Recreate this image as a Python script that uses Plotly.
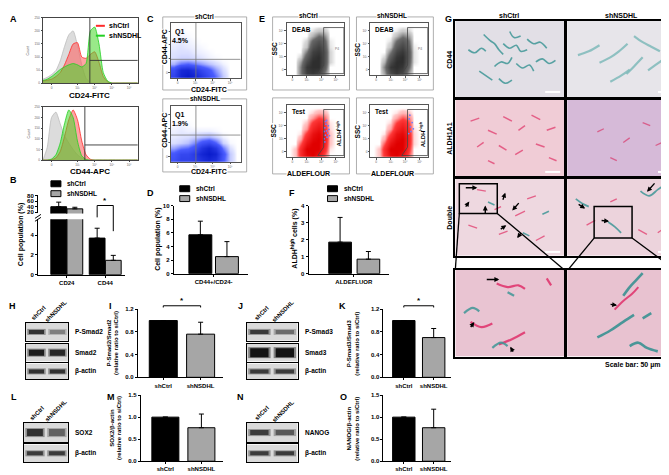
import plotly.graph_objects as go

W, H = 669, 475
FONT = "Liberation Sans"

# ---------------- values ----------------
# A: flow histograms (x = log10 fluorescence, y = count)
hist_x = [-0.5, -0.25, 0.0, 0.25, 0.5, 0.75, 1.0, 1.25, 1.5, 1.75, 2.0, 2.25,
          2.5, 2.75, 3.0, 3.25, 3.5, 3.75, 4.0, 4.25, 4.5, 4.75, 5.0]
cd24_isotype = [15, 22, 33, 48, 85, 140, 185, 200, 145, 70, 18, 3, 0, 0, 0, 0, 0, 0, 0, 0, 0, 0, 0]
cd24_shctrl = [8, 11, 15, 25, 40, 70, 110, 150, 155, 100, 95, 110, 120, 80, 25, 5, 0, 0, 0, 0, 0, 0, 0]
cd24_shnsdhl = [10, 15, 25, 38, 52, 62, 70, 75, 70, 62, 75, 200, 215, 150, 40, 8, 0, 0, 0, 0, 0, 0, 0]
cd44_isotype = [0, 60, 200, 225, 170, 115, 80, 50, 25, 10, 2, 0, 0, 0, 0, 0, 0, 0, 0, 0, 0, 0, 0]
cd44_shctrl = [0, 0, 2, 10, 40, 110, 190, 235, 190, 90, 25, 4, 0, 0, 0, 0, 0, 0, 0, 0, 0, 0, 0]
cd44_shnsdhl = [0, 0, 5, 25, 80, 170, 235, 200, 90, 20, 3, 0, 0, 0, 0, 0, 0, 0, 0, 0, 0, 0, 0]

# B: cell population (%)
b_markers = ["CD24", "CD44"]
b_shctrl = [40, 3.7]
b_shctrl_sd = [17, 1.0]
b_shnsdhl = [32, 1.45]
b_shnsdhl_sd = [6, 0.5]

# C: CD44/CD24 dot plots, density grid (rows bottom -> top)
c_q1 = ["4.5%", "1.9%"]
c_shctrl_density = [
    [0.6, 0.9, 1.0, 0.9, 0.7, 0.5, 0.3, 0.1, 0, 0],
    [0.5, 0.85, 0.9, 0.75, 0.55, 0.4, 0.2, 0.06, 0, 0],
    [0.15, 0.3, 0.35, 0.28, 0.2, 0.12, 0.06, 0.02, 0, 0],
    [0.05, 0.08, 0.08, 0.06, 0.04, 0.02, 0.01, 0, 0, 0],
    [0.04, 0.05, 0.05, 0.03, 0.02, 0.01, 0, 0, 0, 0],
    [0.03, 0.04, 0.03, 0.02, 0.01, 0, 0, 0, 0, 0],
    [0.02, 0.03, 0.02, 0.01, 0, 0, 0, 0, 0, 0],
    [0.01, 0.02, 0.01, 0, 0, 0, 0, 0, 0, 0],
    [0, 0.01, 0, 0, 0, 0, 0, 0, 0, 0],
    [0, 0, 0, 0, 0, 0, 0, 0, 0, 0],
]
c_shnsdhl_density = [
    [0.45, 0.6, 0.6, 0.65, 0.8, 0.9, 0.8, 0.4, 0.1, 0],
    [0.4, 0.55, 0.55, 0.7, 0.9, 1.0, 0.9, 0.45, 0.1, 0],
    [0.18, 0.28, 0.32, 0.45, 0.75, 0.9, 0.7, 0.28, 0.05, 0],
    [0.05, 0.08, 0.12, 0.25, 0.45, 0.55, 0.35, 0.08, 0.01, 0],
    [0.03, 0.04, 0.05, 0.08, 0.12, 0.15, 0.08, 0.02, 0, 0],
    [0.02, 0.03, 0.02, 0.02, 0.02, 0.02, 0.01, 0, 0, 0],
    [0.01, 0.02, 0.01, 0, 0, 0, 0, 0, 0, 0],
    [0, 0, 0, 0, 0, 0, 0, 0, 0, 0],
    [0, 0, 0, 0, 0, 0, 0, 0, 0, 0],
    [0, 0, 0, 0, 0, 0, 0, 0, 0, 0],
]

# D: CD44+/CD24- population (%)
d_shctrl, d_shctrl_sd = 5.7, 2.0
d_shnsdhl, d_shnsdhl_sd = 2.5, 2.2

# E: ALDEFLUOR dot plots, density grids (rows bottom -> top)
e_deab_shctrl = [
    [0, 0, 0.3, 0.8, 0.9, 0.8, 0.3, 0, 0, 0],
    [0, 0, 0.3, 0.9, 1.0, 1.0, 0.5, 0, 0, 0],
    [0, 0, 0.2, 0.7, 1.0, 1.0, 0.6, 0.05, 0, 0],
    [0, 0, 0.05, 0.5, 0.9, 1.0, 0.6, 0.05, 0, 0],
    [0, 0, 0, 0.3, 0.8, 0.9, 0.6, 0.05, 0, 0],
    [0, 0, 0, 0.1, 0.6, 0.8, 0.5, 0.03, 0, 0],
    [0, 0, 0, 0.05, 0.4, 0.6, 0.4, 0.02, 0, 0],
    [0, 0, 0, 0, 0.15, 0.35, 0.25, 0, 0, 0],
    [0, 0, 0, 0, 0.03, 0.1, 0.08, 0, 0, 0],
    [0, 0, 0, 0, 0, 0, 0, 0, 0, 0],
]
e_test_shctrl = [
    [0, 0.05, 0.5, 0.9, 1.0, 0.8, 0.3, 0, 0, 0],
    [0, 0.05, 0.5, 1.0, 1.0, 1.0, 0.5, 0.02, 0, 0],
    [0, 0, 0.3, 0.8, 1.0, 1.0, 0.6, 0.05, 0, 0],
    [0, 0, 0.1, 0.6, 0.9, 1.0, 0.7, 0.05, 0, 0],
    [0, 0, 0.02, 0.4, 0.8, 0.95, 0.6, 0.05, 0, 0],
    [0, 0, 0, 0.15, 0.6, 0.8, 0.5, 0.03, 0, 0],
    [0, 0, 0, 0.05, 0.4, 0.6, 0.4, 0.02, 0, 0],
    [0, 0, 0, 0, 0.15, 0.35, 0.25, 0, 0, 0],
    [0, 0, 0, 0, 0.03, 0.1, 0.08, 0, 0, 0],
    [0, 0, 0, 0, 0, 0, 0, 0, 0, 0],
]
e_deab_shnsdhl = [
    [0, 0, 0.2, 0.7, 0.9, 0.7, 0.2, 0, 0, 0],
    [0, 0, 0.3, 0.9, 1.0, 0.9, 0.4, 0, 0, 0],
    [0, 0, 0.15, 0.7, 1.0, 1.0, 0.5, 0.03, 0, 0],
    [0, 0, 0.05, 0.5, 0.9, 1.0, 0.55, 0.03, 0, 0],
    [0, 0, 0, 0.3, 0.75, 0.9, 0.55, 0.03, 0, 0],
    [0, 0, 0, 0.1, 0.55, 0.75, 0.45, 0.02, 0, 0],
    [0, 0, 0, 0.03, 0.35, 0.55, 0.35, 0, 0, 0],
    [0, 0, 0, 0, 0.12, 0.3, 0.2, 0, 0, 0],
    [0, 0, 0, 0, 0.02, 0.08, 0.05, 0, 0, 0],
    [0, 0, 0, 0, 0, 0, 0, 0, 0, 0],
]
e_test_shnsdhl = [
    [0, 0.05, 0.45, 0.9, 1.0, 0.8, 0.3, 0, 0, 0],
    [0, 0.05, 0.5, 1.0, 1.0, 1.0, 0.45, 0, 0, 0],
    [0, 0, 0.3, 0.8, 1.0, 1.0, 0.55, 0.03, 0, 0],
    [0, 0, 0.1, 0.6, 0.9, 1.0, 0.6, 0.03, 0, 0],
    [0, 0, 0.02, 0.35, 0.8, 0.9, 0.55, 0.03, 0, 0],
    [0, 0, 0, 0.12, 0.55, 0.75, 0.45, 0.02, 0, 0],
    [0, 0, 0, 0.03, 0.35, 0.55, 0.35, 0, 0, 0],
    [0, 0, 0, 0, 0.12, 0.3, 0.2, 0, 0, 0],
    [0, 0, 0, 0, 0.02, 0.08, 0.05, 0, 0, 0],
    [0, 0, 0, 0, 0, 0, 0, 0, 0, 0],
]
e_high_shctrl_x = [6.5, 6.7, 6.9, 6.6, 7.1, 6.8, 7.3, 6.6, 7.0, 6.9, 7.4, 6.7, 7.2, 6.5]
e_high_shctrl_y = [3.5, 4.2, 5.0, 5.6, 4.6, 6.3, 5.3, 2.9, 3.8, 7.0, 4.1, 6.8, 6.0, 4.9]
e_high_shnsdhl_x = [6.6, 6.9, 7.2, 6.7, 7.0, 6.8, 7.4]
e_high_shnsdhl_y = [4.5, 5.8, 6.6, 7.3, 4.9, 8.0, 5.4]

# F: ALDH-high cells (%)
f_shctrl, f_shctrl_sd = 1.85, 1.45
f_shnsdhl, f_shnsdhl_sd = 0.85, 0.45

# I, K, M, O: densitometry ratios relative to shCtrl
ratio_groups = ["shCtrl", "shNSDHL"]
i_ratio, i_sd = [1.0, 0.76], [0, 0.21]
k_ratio, k_sd = [1.0, 0.70], [0, 0.16]
m_ratio, m_sd = [1.0, 0.76], [0, 0.31]
o_ratio, o_sd = [1.0, 0.76], [0, 0.42]

# H, J, L, N: western blot band intensity (0 = none, 1 = black)
blot_lanes = ["shCtrl", "shNSDHL"]
h_proteins = ["P-Smad2", "Smad2", "β-actin"]
h_bands = [[0.85, 0.45], [0.95, 0.9], [0.85, 0.85]]
j_proteins = ["P-Smad3", "Smad3", "β-actin"]
j_bands = [[0.8, 0.55], [1.0, 1.0], [0.8, 0.8]]
l_proteins = ["SOX2", "β-actin"]
l_bands = [[0.85, 0.6], [0.8, 0.8]]
n_proteins = ["NANOG", "β-actin"]
n_bands = [[0.8, 0.65], [0.8, 0.8]]

cd44_ctrl_strokes = [
    ([12, 18, 24, 28], [62, 58, 64, 60]), ([26, 32, 36, 40, 44], [82, 74, 70, 62, 56]),
    ([36, 42, 48, 52], [40, 46, 44, 52]), ([44, 50, 56, 60, 66], [70, 64, 68, 60, 62]),
    ([50, 54, 60], [86, 78, 80]), ([56, 62, 68, 72], [44, 38, 42, 34]),
    ([66, 72, 78, 84], [76, 70, 72, 64]), ([22, 28, 34], [34, 28, 22]),
    ([74, 80, 86, 92], [46, 50, 44, 48]), ([40, 46, 52], [24, 18, 22]),
]
cd44_nsdhl_strokes = [
    ([10, 20, 30], [55, 60, 68]), ([30, 40, 48, 56], [45, 52, 60, 70]),
    ([55, 62, 70], [30, 40, 52]), ([62, 70, 78, 86], [80, 72, 66, 60]),
    ([40, 50, 58], [20, 28, 36]), ([75, 82, 90], [35, 42, 50]),
]
aldh_ctrl_strokes = [
    ([14, 22], [72, 76]), ([30, 38], [60, 55]), ([44, 52], [78, 72]), ([58, 64], [60, 66]),
    ([70, 78], [80, 74]), ([20, 26], [38, 44]), ([40, 47], [40, 34]), ([55, 62], [28, 34]),
    ([74, 82], [42, 38]), ([84, 92], [60, 64]), ([30, 36], [20, 16]), ([86, 93], [24, 20]),
]
aldh_nsdhl_strokes = [([28, 34], [58, 62]), ([52, 58], [44, 50]), ([70, 77], [70, 66]),
                      ([40, 46], [24, 20]), ([82, 88], [40, 44])]
double_ctrl_pink = [([20, 28], [86, 84]), ([36, 42], [60, 64]), ([55, 64], [52, 58]), ([66, 74], [74, 78]),
                    ([40, 48], [28, 32]), ([74, 82], [20, 26]), ([12, 20], [40, 36])]
double_ctrl_teal = [([30, 36], [70, 66]), ([62, 68], [30, 26]), ([80, 86], [54, 58])]
double_nsdhl_pink = [([18, 26], [40, 46]), ([66, 74], [34, 28]), ([40, 46], [70, 74]), ([84, 90], [30, 36])]
double_nsdhl_teal = [([68, 76, 84, 90], [84, 78, 86, 92]), ([8, 14, 20], [74, 68, 64]),
                     ([38, 44, 50], [44, 38, 30])]
inset_ctrl_pink = [([38, 48, 58, 64], [84, 80, 82, 78]), ([14, 24, 34], [40, 34, 38]),
                   ([40, 52, 64], [14, 20, 28]), ([84, 88], [90, 82])]
inset_ctrl_teal = [([34, 42, 48], [10, 16, 12]), ([8, 16, 22], [50, 56, 52]), ([48, 54], [74, 70])]
inset_nsdhl_pink = [([44, 52, 60, 66], [54, 64, 72, 80])]
inset_nsdhl_teal = [([52, 58, 64, 70], [70, 80, 88, 96]), ([28, 40, 52, 62], [22, 30, 40, 48]),
                    ([58, 66, 74, 84], [12, 16, 10, 6]), ([70, 78], [44, 50])]

# ---------------- helpers ----------------
fig = go.Figure()
annotations, shapes = [], []
n_axes = 0
TICKFONT = dict(family=FONT, size=6, color="black", weight="bold")
TINY = dict(family=FONT, size=3.2, color="#666")
BAR_COLORS = ["black", "#a6a6a6"]


def pp(x, y):
    return x / W, 1 - y / H


def add_text(x, y, s, size=7, bold=True, angle=0, anchor="center", color="black", bg=None):
    px, py = pp(x, y)
    a = dict(x=px, y=py, xref="paper", yref="paper", showarrow=False, textangle=angle,
             xanchor=anchor, yanchor="middle", text="<b>%s</b>" % s if bold else s,
             font=dict(family=FONT, size=size, color=color))
    if bg:
        a.update(bgcolor=bg, borderpad=0)
    annotations.append(a)


def add_line(x0, y0, x1, y1, color="black", width=1):
    a, b = pp(x0, y0)
    c, d = pp(x1, y1)
    shapes.append(dict(type="line", xref="paper", yref="paper", x0=a, y0=b, x1=c, y1=d,
                       line=dict(color=color, width=width)))


def add_rect(x0, y0, x1, y1, color="black", width=1, fill=None):
    a, b = pp(x0, y1)
    c, d = pp(x1, y0)
    shapes.append(dict(type="rect", xref="paper", yref="paper", x0=a, y0=b, x1=c, y1=d,
                       line=dict(color=color, width=width), fillcolor=fill or "rgba(0,0,0,0)"))


def add_arrow(hx, hy, tx, ty):
    px, py = pp(hx, hy)
    annotations.append(dict(x=px, y=py, xref="paper", yref="paper", text=" ", showarrow=True,
                            ax=tx - hx, ay=ty - hy, arrowhead=2, arrowsize=0.7, arrowwidth=1.4,
                            arrowcolor="black", font=dict(size=1)))


def add_axes(box, xr, yr, xa=None, ya=None):
    global n_axes
    n_axes += 1
    s = "" if n_axes == 1 else str(n_axes)
    x0, x1, y0, y1 = box
    base = dict(showgrid=False, zeroline=False, showticklabels=False, ticks="",
                showline=False, fixedrange=True)
    xd = dict(base, domain=[x0 / W, x1 / W], range=xr, anchor="y" + s)
    yd = dict(base, domain=[1 - y1 / H, 1 - y0 / H], range=yr, anchor="x" + s)
    xd.update(xa or {})
    yd.update(ya or {})
    fig.update_layout({"xaxis" + s: xd, "yaxis" + s: yd})
    return "x" + s, "y" + s


def val_px(box, xr, yr, xv, yv):
    x0, x1, y0, y1 = box
    return (x0 + (xv - xr[0]) / (xr[1] - xr[0]) * (x1 - x0),
            y1 - (yv - yr[0]) / (yr[1] - yr[0]) * (y1 - y0))


def bar_chart(box, xr, yr, yticks, ytext, xs, vals, errs, width, xticks, xlabels):
    prism = dict(showline=True, linecolor="black", linewidth=1, ticks="outside", ticklen=2,
                 tickwidth=1, tickcolor="black", showticklabels=True, tickfont=TICKFONT)
    xa, ya = add_axes(box, xr, yr, dict(prism, tickvals=xticks, ticktext=xlabels),
                      dict(prism, tickvals=yticks, ticktext=ytext))
    fig.add_trace(go.Bar(x=xs, y=vals, width=width,
                         marker=dict(color=(BAR_COLORS * 2)[:len(xs)], line=dict(color="black", width=1)),
                         error_y=dict(type="data", symmetric=False, array=errs, arrayminus=[0] * len(errs),
                                      color="black", thickness=1, width=2.5),
                         xaxis=xa, yaxis=ya, showlegend=False, hoverinfo="skip"))
    return xa, ya


def bracket(box, xr, yr, xv0, xv1, yv, drop0, drop1):
    x0, y = val_px(box, xr, yr, xv0, yv)
    x1, _ = val_px(box, xr, yr, xv1, yv)
    _, ya = val_px(box, xr, yr, xv0, yv - drop0)
    _, yb = val_px(box, xr, yr, xv1, yv - drop1)
    add_line(x0, ya, x0, y, width=1)
    add_line(x0, y, x1, y, width=1)
    add_line(x1, y, x1, yb, width=1)
    add_text((x0 + x1) / 2, y - 5, "*", size=8)


def legend_boxes(x, y):
    add_rect(x, y - 3, x + 10, y + 3, fill="black")
    add_rect(x, y + 7, x + 10, y + 13, fill="#a6a6a6")
    add_text(x + 14, y, "shCtrl", size=6.5, anchor="left")
    add_text(x + 14, y + 10, "shNSDHL", size=6.5, anchor="left")


def panel_bg(xa, ya, color, x1=100, y1=100):
    shapes.append(dict(type="rect", xref=xa, yref=ya, x0=0, x1=x1, y0=0, y1=y1,
                       fillcolor=color, line=dict(width=0), layer="below"))


# ---------------- A: histograms ----------------
def histogram(box, iso, ctrl, nsdhl, gate_x, gate_y):
    frame = dict(showline=True, mirror=True, linecolor="#444", linewidth=0.8, ticks="outside",
                 ticklen=1.5, tickwidth=0.6, tickcolor="#444", showticklabels=True, tickfont=TINY)
    xa, ya = add_axes(box, [-0.5, 5.0], [0, 250],
                      dict(frame, tickvals=[0, 1.5, 2.5, 3.5, 4.5], ticktext=["0", "10³", "10⁴", "10⁵", "10⁶"]),
                      dict(frame, tickvals=[0, 50, 100, 150, 200, 250]))
    for ys, line, fill in ((iso, "#bdbdbd", "rgba(205,205,205,0.7)"),
                           (ctrl, "#ff2a2a", "rgba(255,90,90,0.55)"),
                           (nsdhl, "#22d022", "rgba(70,215,40,0.55)")):
        fig.add_trace(go.Scatter(x=hist_x, y=ys, mode="lines", fill="tozeroy", fillcolor=fill,
                                 line=dict(color=line, width=0.8, shape="spline", smoothing=0.6),
                                 xaxis=xa, yaxis=ya, showlegend=False, hoverinfo="skip"))
    for x0, y0, x1, y1 in ((gate_x, 0, gate_x, 250), (gate_x, gate_y, 5.0, gate_y)):
        shapes.append(dict(type="line", xref=xa, yref=ya, x0=x0, y0=y0, x1=x1, y1=y1,
                           line=dict(color="#333", width=0.9)))


add_text(6, 8, "A", size=9)
histogram((35, 130, 7, 73), cd24_isotype, cd24_shctrl, cd24_shnsdhl, 2.22, 87)
histogram((35, 130, 97, 151), cd44_isotype, cd44_shctrl, cd44_shnsdhl, 1.93, 71)
add_text(21, 40, "Count", size=3.5, bold=False, angle=-90, color="#555")
add_text(21, 124, "Count", size=3.5, bold=False, angle=-90, color="#555")
add_text(82, 86, "CD24-FITC", size=8)
add_text(82, 163, "CD44-APC", size=8)
add_line(88, 15, 97, 15, color="#ff2a2a", width=2)
add_line(88, 25, 97, 25, color="#22d022", width=2)
add_text(99, 15, "shCtrl", size=7, anchor="left")
add_text(99, 25, "shNSDHL", size=7, anchor="left")

# ---------------- B: broken-axis bars ----------------
add_text(6, 171, "B", size=9)
b_x = [0.79, 1.21, 1.79, 2.21]
b_vals = [b_shctrl[0], b_shnsdhl[0], b_shctrl[1], b_shnsdhl[1]]
b_errs = [b_shctrl_sd[0], b_shnsdhl_sd[0], b_shctrl_sd[1], b_shnsdhl_sd[1]]
b_xr = [0.25, 2.51]
b_top = (30, 117, 186, 205)
b_bot = (30, 117, 211, 267)
b_bot_yr = [0, 5.6]
xa, ya = bar_chart(b_top, b_xr, [15, 85], [20, 40, 60, 80], None, b_x, b_vals, b_errs, 0.41, [], [])
fig.update_layout({"xaxis" + xa[1:]: dict(showline=False, ticks="", showticklabels=False)})
bar_chart(b_bot, b_xr, b_bot_yr, [0, 2, 4], None, b_x, b_vals, b_errs, 0.41, [1, 2], b_markers)
add_line(27, 210, 33, 206, width=1)
add_line(27, 213, 33, 209, width=1)
bracket(b_bot, b_xr, b_bot_yr, 1.79, 2.21, 7.0, 1.2, 2.6)
add_text(13, 226, "Cell population (%)", size=7, angle=-90)
legend_boxes(43, 175)


# ---------------- C / E: dot plots ----------------
def dot_plot(outer, inner, z, colors, boxed=True):
    add_rect(*outer, color="#9a9a9a", width=0.8)
    frame = dict(showline=True, mirror=boxed, linecolor="#555", linewidth=0.8, ticks="outside",
                 ticklen=1.5, tickwidth=0.6, tickcolor="#555", showticklabels=True, tickfont=TINY)
    xa, ya = add_axes(inner, [0, 10], [0, 10],
                      dict(frame, tickvals=[1, 3.5, 6, 8.5], ticktext=["0", "10³", "10⁴", "10⁵"]),
                      dict(frame, tickvals=[1, 3.5, 6, 8.5], ticktext=["0", "10³", "10⁴", "10⁵"]))
    centers = [0.5 + i for i in range(10)]
    scale = [[0, "rgba(255,255,255,1)"], [0.04, colors[0]], [0.35, colors[1]], [1, colors[2]]]
    fig.add_trace(go.Heatmap(z=z, x=centers, y=centers, zmin=0, zmax=1, zsmooth="best",
                             colorscale=scale, showscale=False, xaxis=xa, yaxis=ya, hoverinfo="skip"))
    return xa, ya


BLUE = ["#dfe3ff", "#4a5cff", "#0a1ccc"]
GRAY = ["#d8d8d8", "#6a6a6a", "#2e2e2e"]
RED = ["#ffc8c8", "#ff3a3a", "#e00000"]

add_text(143, 8, "C", size=9)
for (oy0, oy1, iy0, iy1), z, q, title, qy in (((6, 80, 12, 68), c_shctrl_density, c_q1[0], "shCtrl", 3.4),
                                              ((89, 163, 96, 153), c_shnsdhl_density, c_q1[1], "shNSDHL", 4.8)):
    xa, ya = dot_plot((155, oy0, 239, oy1), (163, 233, iy0, iy1), z, BLUE)
    for x0, y0, x1, y1 in ((3.6, 0, 3.6, 10), (0, qy, 10, qy)):
        shapes.append(dict(type="line", xref=xa, yref=ya, x0=x0, y0=y0, x1=x1, y1=y1,
                           line=dict(color="#777", width=0.8)))
    add_text(197, oy0, title, size=6.5, bg="white")
    add_text(157, (iy0 + iy1) / 2 - 4, "CD44-APC", size=7, angle=-90, bg="white")
    add_text(201, oy1, "CD24-FITC", size=7, bg="white")
    add_text(172, iy0 + 9, "Q1", size=7)
    add_text(173, iy0 + 18, q, size=7)

add_text(254, 8, "E", size=9)
gate_path = "M 6.4 9.1 L 9.9 9.1 L 9.9 0.3 L 5.4 0.3 L 6.4 1.9 Z"
for ox, ix, deab, test, hx, hy, title in (
        (265, 279, e_deab_shctrl, e_test_shctrl, e_high_shctrl_x, e_high_shctrl_y, "shCtrl"),
        (349, 363, e_deab_shnsdhl, e_test_shnsdhl, e_high_shnsdhl_x, e_high_shnsdhl_y, "shNSDHL")):
    for oy0, oy1, iy0, iy1, z, cols, tag in ((6, 80, 12, 65, deab, GRAY, "DEAB"),
                                             (88, 165, 95, 148, test, RED, "Test")):
        xa, ya = dot_plot((ox, oy0, ox + 77, oy1), (ix, ix + 58, iy0, iy1), z, cols)
        shapes.append(dict(type="path", xref=xa, yref=ya, path=gate_path,
                           line=dict(color="#444", width=0.8)))
        add_text(ix + 3, iy0 + 7, tag, size=6.5, anchor="left")
        add_text(ox + 1, (iy0 + iy1) / 2, "SSC", size=6.5, angle=-90, bg="white")
        if tag == "DEAB":
            add_text(ix + 50, (iy0 + iy1) / 2, "P4", size=3.5, bold=False, color="#777")
        else:
            fig.add_trace(go.Scatter(x=hx, y=hy, mode="markers", xaxis=xa, yaxis=ya,
                                     marker=dict(color="#6f7dff", size=1.8), showlegend=False,
                                     hoverinfo="skip"))
            add_text(ix + 52, (iy0 + iy1) / 2 + 3, "ALDH<sup>high</sup>", size=6, angle=-90)
    add_text(ox + 36, 5, title, size=6.5, bg="white")
    add_text(ox + 36, 165, "ALDEFLOUR", size=7, bg="white")

# ---------------- D / F: single-marker bars ----------------
add_text(143, 184, "D", size=9)
legend_boxes(172, 180)
bar_chart((166, 240, 197, 266), [0, 1], [0, 10], [0, 2, 4, 6, 8, 10], None,
          [0.36, 0.72], [d_shctrl, d_shnsdhl], [d_shctrl_sd, d_shnsdhl_sd], 0.31, [0.54], ["CD44+/CD24-"])
add_text(150, 231, "Cell population (%)", size=7, angle=-90)

add_text(284, 184, "F", size=9)
legend_boxes(320, 180)
bar_chart((301, 382, 197, 266), [0, 1], [0, 4], [0, 1, 2, 3, 4], None,
          [0.39, 0.74], [f_shctrl, f_shnsdhl], [f_shctrl_sd, f_shnsdhl_sd], 0.28, [0.56], ["ALDEFLUOR"])
add_text(287, 231, "ALDH<sup>high</sup> cells (%)", size=7, angle=-90)

# ---------------- G: IHC micrographs ----------------
add_text(441, 8, "G", size=9)
add_text(502, 5, "shCtrl", size=7)
add_text(614, 5, "shNSDHL", size=7)
g_cols = [(448, 557), (560, 668)]
g_rows = [(10, 87), (90, 167), (170, 248), (262, 350)]
TEAL, TEAL_LIGHT, PINK = "#3f9797", "#7fbaba", "#e34d7a"
g_images = [
    (0, 0, "#e2dfe6", [(cd44_ctrl_strokes, TEAL, 1.6)]),
    (1, 0, "#e7e5ea", [(cd44_nsdhl_strokes, TEAL_LIGHT, 2.2)]),
    (0, 1, "#f0ccd6", [(aldh_ctrl_strokes, PINK, 1.5)]),
    (1, 1, "#d6bad8", [(aldh_nsdhl_strokes, "#d9507f", 1.3)]),
    (0, 2, "#eed8e0", [(double_ctrl_pink, PINK, 1.3), (double_ctrl_teal, TEAL, 1.5)]),
    (1, 2, "#ecd3dc", [(double_nsdhl_pink, PINK, 1.3), (double_nsdhl_teal, TEAL, 1.8)]),
    (0, 3, "#e9c4d2", [(inset_ctrl_pink, "#e0306a", 2.2), (inset_ctrl_teal, TEAL, 2.2)]),
    (1, 3, "#e8c2d0", [(inset_nsdhl_pink, "#e0306a", 2.0), (inset_nsdhl_teal, "#2f8f8f", 2.6)]),
]
for ci, ri, bg, layers in g_images:
    box = g_cols[ci] + g_rows[ri]
    border = dict(showline=True, mirror=True, linecolor="black", linewidth=1.6)
    xa, ya = add_axes(box, [0, 100], [0, 100], border, border)
    panel_bg(xa, ya, bg)
    for strokes, color, width in layers:
        for xs, ys in strokes:
            fig.add_trace(go.Scatter(x=xs, y=ys, mode="lines", xaxis=xa, yaxis=ya,
                                     line=dict(color=color, width=width, shape="spline"),
                                     opacity=0.85, showlegend=False, hoverinfo="skip"))
add_text(442, 49, "CD44", size=7, angle=-90)
add_text(442, 129, "ALDH1A1", size=7, angle=-90)
add_text(442, 209, "Double", size=7, angle=-90)
for x0, x1, y in ((538, 553, 82), (651, 665, 82), (538, 553, 163), (651, 665, 163),
                  (538, 553, 244), (651, 665, 244)):
    add_line(x0, y, x1, y, color="white", width=2)
add_rect(452, 175, 490, 205, width=1.5)
add_rect(587, 198, 625, 230, width=1.5)
add_line(452, 205, 448, 262, width=1.3)
add_line(490, 205, 557, 262, width=1.3)
add_line(587, 230, 561, 262, width=1.3)
add_line(625, 230, 668, 262, width=1.3)
for arrow in ((470, 179, 457, 179), (462, 193, 457, 200), (478, 197, 478, 207), (498, 184, 495, 193),
              (505, 202, 513, 193), (499, 217, 492, 222), (510, 230, 515, 223),
              (640, 183, 649, 173), (578, 200, 570, 195), (602, 213, 593, 212),
              (492, 272, 478, 272), (467, 315, 462, 322), (503, 340, 507, 347), (610, 298, 602, 297)):
    add_arrow(*arrow)
add_text(625, 359, "Scale bar: 50 µm", size=7)


# ---------------- H, J, L, N: western blots ----------------
def blots(letter, lx, ly, x0, x1, rows, proteins, bands, thickness):
    add_text(lx, ly, letter, size=9)
    top = rows[0][0]
    add_text(x0 + (x1 - x0) * 0.3, top - 10, blot_lanes[0], size=6, angle=-45)
    add_text(x0 + (x1 - x0) * 0.72, top - 12, blot_lanes[1], size=6, angle=-45)
    for (y0, y1), name, lanes, t in zip(rows, proteins, bands, thickness):
        border = dict(showline=True, mirror=True, linecolor="black", linewidth=1)
        xa, ya = add_axes((x0, x1, y0, y1), [0, 2], [0, 1], border, border)
        panel_bg(xa, ya, "#dadada", 2, 1)
        for lane, level in enumerate(lanes):
            g = int(215 - 195 * level)
            color = "rgb(%d,%d,%d)" % (g, g, g)
            for pad, w, op in ((0.06, t + 2, 0.45), (0.14, t, 1.0)):
                fig.add_trace(go.Scatter(x=[lane + pad, lane + 1 - pad], y=[0.5, 0.5], mode="lines",
                                         line=dict(color=color, width=w), opacity=op,
                                         xaxis=xa, yaxis=ya, showlegend=False, hoverinfo="skip"))
        add_text(x1 + 5, (y0 + y1) / 2, name, size=6.5, anchor="left")


blots("H", 5, 299, 18, 60, [(316, 334), (337, 355), (357, 373)], h_proteins, h_bands, [4, 6, 4])
blots("J", 233, 299, 239, 290, [(316, 334), (337, 355), (357, 373)], j_proteins, j_bands, [4, 9, 4])
blots("L", 6, 391, 16, 60, [(417, 437), (439, 457)], l_proteins, l_bands, [7, 4])
blots("N", 233, 391, 239, 290, [(417, 437), (439, 457)], n_proteins, n_bands, [5, 4])

# ---------------- I, K, M, O: ratio bars ----------------
ratio_panels = [
    ("I", 103, 299, (130, 215, 302, 371), 25, [0, 1.2], [0, 0.4, 0.8, 1.2], ["0.0", "0.4", "0.8", "1.2"],
     i_ratio, i_sd, "P-Smad2/Smad2", True),
    ("K", 335, 299, (376, 444, 302, 371), 30, [0, 1.2], [0, 0.4, 0.8, 1.2], ["0.0", "0.4", "0.8", "1.2"],
     k_ratio, k_sd, "P-Smad3/Smad3", True),
    ("M", 103, 391, (133, 215, 389, 456), 25, [0, 1.5], [0, 0.5, 1.0, 1.5], ["0.0", "0.5", "1.0", "1.5"],
     m_ratio, m_sd, "SOX2/β-actin", False),
    ("O", 336, 391, (376, 444, 389, 456), 30, [0, 1.5], [0, 0.5, 1.0, 1.5], ["0.0", "0.5", "1.0", "1.5"],
     o_ratio, o_sd, "NANOG/β-actin", False),
]
for letter, lx, ly, box, off, yr, yt, ytxt, vals, sds, label, star in ratio_panels:
    add_text(lx, ly, letter, size=9)
    xs = [0.3, 0.74]
    bar_chart(box, [0, 1], yr, yt, ytxt, xs, vals, sds, 0.33, xs, ratio_groups)
    add_text(box[0] - off, (box[2] + box[3]) / 2,
             "<b>%s</b><br><b>(relative ratio to siCtrl)</b>" % label, size=6, bold=False, angle=-90)
    if star:
        bracket(box, [0, 1], yr, xs[0], xs[1], yr[1] * 1.05, 0.03, 0.03)

fig.update_layout(width=W, height=H, margin=dict(l=0, r=0, t=0, b=0), paper_bgcolor="white",
                  plot_bgcolor="rgba(0,0,0,0)", annotations=annotations, shapes=shapes,
                  font=dict(family=FONT), showlegend=False)
fig.write_html("out.html")
